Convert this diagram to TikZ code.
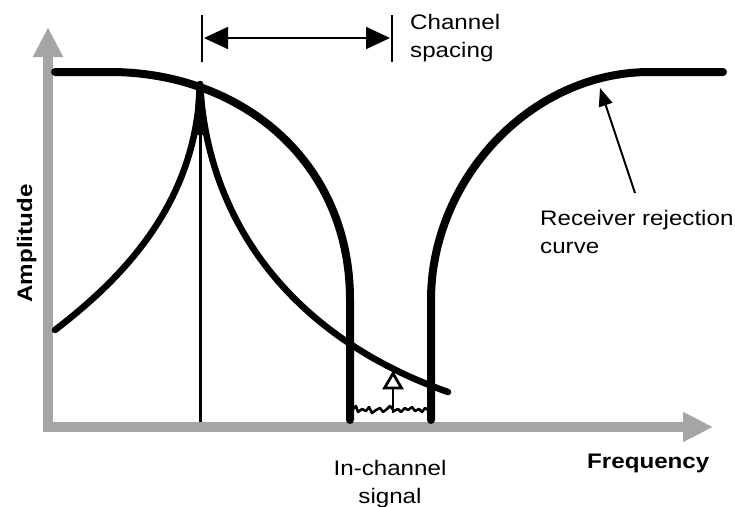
\documentclass[tikz,border=0pt]{standalone}
\usepackage{fontspec}
\setmainfont[FakeStretch=1.15]{Liberation Sans}
\usetikzlibrary{arrows.meta}
\definecolor{axgray}{RGB}{165,165,165}
\begin{document}
\begin{tikzpicture}[x=1pt,y=-1pt,
  axisline/.style={draw=axgray,line width=10pt,-{Triangle[width=28pt,length=30pt]}},
  curveline/.style={line width=8pt,line cap=round},
  skirtline/.style={line width=6.5pt,line cap=round},
  thinline/.style={line width=3pt},
  tickline/.style={line width=2pt},
  lbl/.style={inner sep=0pt,font=\fontsize{21}{28}\selectfont},
  blbl/.style={inner sep=0pt,font=\fontsize{21}{28}\selectfont\bfseries}]
\useasboundingbox (0,0) rectangle (735,506);
% axes
\coordinate (yb) at (48,432);
\coordinate (yt) at (48,27);
\coordinate (xl) at (43,427);
\coordinate (xr) at (713,427);
\draw[axisline] (yb) -- (yt);
\draw[axisline] (xl) -- (xr);
% receiver rejection curve
\draw[curveline] (55,72) -- (110,72) .. controls (240,72) and (350,160) .. (350,300) -- (350,420);
\draw[curveline] (431,420) -- (431,300) .. controls (431,180) and (530,72) .. (650,72) -- (723,72);
% interferer
\coordinate (pk) at (200,84);
\coordinate (pb) at (200,422);
\draw[thinline] (pk) -- (pb);
\fill (196.5,84) -- (203.5,84) -- (206,135) -- (194,135) -- cycle;
\draw[skirtline] (pk) .. controls (197,205) and (120,280) .. (55,330);
\draw[skirtline] (pk) .. controls (208,230) and (300,340) .. (448,392);
% in-channel noise
\draw[line width=2.5pt,line join=round] (352,410) -- (356,406) -- (358,412) -- (362,409) -- (366,411) -- (369,407) -- (372,413) -- (376,410) -- (380,408) -- (383,412) -- (387,409) -- (390,406) -- (394,411) -- (398,409) -- (401,412) -- (405,408) -- (408,410) -- (412,407) -- (415,411) -- (419,409) -- (422,412) -- (425,408) -- (428,410);
\coordinate (sa) at (393,413);
\coordinate (sb) at (393,388);
\draw[line width=2.5pt] (sa) -- (sb);
\draw[line width=2.8pt,line join=miter,fill=white] (384.5,388) -- (401.5,388) -- (393,373.5) -- cycle;
% channel spacing
\coordinate (t1a) at (202,15); \coordinate (t1b) at (202,62);
\coordinate (t2a) at (392,15); \coordinate (t2b) at (392,62);
\draw[tickline] (t1a) -- (t1b);
\draw[tickline] (t2a) -- (t2b);
\coordinate (ca) at (204,38);
\coordinate (cb) at (390,38);
\draw[line width=1.8pt,{Triangle[width=22pt,length=24pt]}-{Triangle[width=22pt,length=24pt]}] (ca) -- (cb);
% receiver arrow
\coordinate (rtail) at (635,193);
\coordinate (rtip) at (600,88);
\draw[line width=2pt,-{Triangle[width=14pt,length=18pt]}] (rtail) -- (rtip);
% labels
\node[lbl,anchor=base west,align=left] (cs) at (410,57) {Channel\\spacing};
\node[lbl,anchor=base west,align=left] (rr) at (540,253) {Receiver rejection\\curve};
\node[lbl,anchor=base,align=center] (ic) at (390,503) {In-channel\\signal};
\node[blbl,anchor=base west] (fq) at (587,468) {Frequency};
\node[blbl,anchor=base,rotate=90] (am) at (32,243.5) {Amplitude};
\end{tikzpicture}
\end{document}
